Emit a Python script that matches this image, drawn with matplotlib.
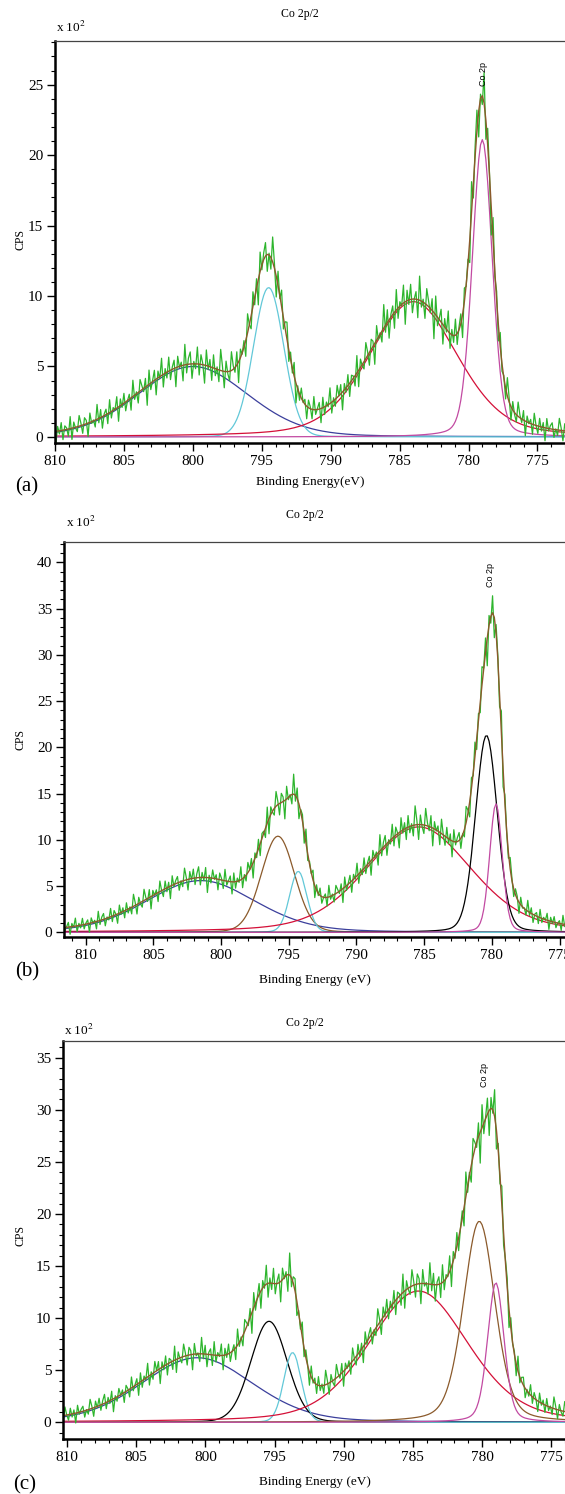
import numpy as np
import matplotlib
matplotlib.use('Agg')
import matplotlib.pyplot as plt
from matplotlib.ticker import MultipleLocator

plt.rcParams['font.family'] = ['Liberation Serif', 'DejaVu Serif']
plt.rcParams['mathtext.fontset'] = 'stix'

# ---- fitted components (x 10^2 CPS) ----
# panel (a)
a_centers = [800.0, 794.5, 784.0, 779.0]
a_heights = [5.0, 10.6, 9.6, 21.1]
a_fwhm = [9.4, 2.6, 7.6, 1.7]
a_eta = [0.15, 0.05, 0.3, 0.2]
a_names = ['blue', 'cyan', 'red', 'magenta']

# panel (b)
b_centers = [801.5, 795.8, 794.3, 785.4, 780.4, 779.7]
b_heights = [5.6, 10.4, 6.6, 11.4, 21.3, 13.9]
b_fwhm = [9.5, 2.9, 1.5, 9.2, 1.9, 1.1]
b_eta = [0.2, 0.1, 0.1, 0.3, 0.15, 0.2]
b_names = ['blue', 'brown', 'cyan', 'red', 'black', 'magenta']

# panel (c)
c_centers = [800.6, 795.4, 793.7, 784.6, 780.2, 779.0]
c_heights = [6.2, 9.7, 6.7, 12.6, 19.3, 13.4]
c_fwhm = [9.5, 3.1, 1.5, 8.5, 2.7, 1.4]
c_eta = [0.2, 0.1, 0.1, 0.3, 0.3, 0.3]
c_names = ['blue', 'black', 'cyan', 'red', 'brown', 'magenta']

# hand-read jitter of the raw counts (in units of local noise)
jitter = [
    0.5, -0.8, 1.1, -0.2, 0.9, -1.3, 0.3, 1.5, -0.7, 0.1,
    -1.0, 0.8, 0.4, -0.3, 1.2, -1.6, 0.6, -0.5, 1.0, -0.9,
    0.0, 1.4, -1.2, 0.5, -0.1, 0.7, -1.7, 1.1, -0.4, 0.3,
    1.6, -0.8, -0.2, 0.9, -1.4, 0.4, 1.8, -1.0, 0.2, -0.6,
    1.1, -1.1, 0.6, -0.3, 1.3, -1.5, 0.1, 0.8, -0.9, 1.4,
    -0.4, 0.2, -1.2, 1.0, 0.5, -0.7, 1.7, -1.3, 0.3, -0.1,
    0.9, -1.6, 0.7, 0.2, -0.8, 1.2, -0.5, 0.4, -1.1, 1.5,
    -0.2, 0.6, -1.4, 0.9, 0.1, -0.6, 1.3, -1.8, 0.8, -0.3,
    0.4, 1.1, -1.0, 0.2, -0.4, 1.6, -1.2, 0.5, 0.0, -0.9,
    1.0, -0.3, 0.7, -1.5, 1.2, -0.1, 0.3, -0.7, 1.4, -1.1,
    0.6, 0.2, -1.3, 0.9, -0.5, 1.7, -0.8, 0.1, -0.2, 1.1,
    -1.6, 0.4, 0.8, -1.0, 0.3, 1.3, -0.6, -0.1, 0.7, -1.4,
    1.5, -0.9, 0.2, 0.5, -1.2, 1.0, -0.4, 0.6, -1.7, 0.9,
    0.0, 1.2, -0.7, 0.3, -1.1, 1.6, -0.2, 0.4, -0.8, 1.1,
    -1.5, 0.7, 0.1, -0.5, 1.4, -1.0, 0.2, 0.8, -1.3, 0.5,
    -0.1, 1.0, -0.6, 0.3, -1.8, 1.2, -0.4, 0.6, -0.9, 1.3]

colors = {'green': '#2db52d', 'brown': '#8b5a2b', 'red': '#d41038',
          'blue': '#3b3f9c', 'cyan': '#62c8d8', 'magenta': '#c24aa2',
          'black': 'black'}

W, H = 565, 1494
fig = plt.figure(figsize=(W / 100, H / 100), dpi=100)


def pv(x, c, h, w, eta):
    g = np.exp(-4 * np.log(2) * ((x - c) / w) ** 2)
    l = 1 / (1 + 4 * ((x - c) / w) ** 2)
    return h * ((1 - eta) * g + eta * l)


def panel(rect, xlim, ylim, ymajor, centers, heights, fwhm, eta, names,
          noise_k, shift, peak_xy, tag, xlab, tag_xy, lab_xy, title_xy,
          exp_xy, cps_xy):
    ax = fig.add_axes(rect)
    x = np.arange(xlim[1] - 0.5, xlim[0] + 0.5, 0.13)
    env = np.zeros_like(x)
    for c, h, w, e, n in zip(centers, heights, fwhm, eta, names):
        y = pv(x, c, h, w, e)
        env += y
        ax.plot(x, y, color=colors[n], lw=0.9)
    j = np.roll(np.resize(np.array(jitter), x.size), shift)
    raw = env + noise_k * np.sqrt(env + 3) * j
    ax.plot(x, raw, color=colors['green'], lw=0.9)
    ax.plot(x, env, color=colors['brown'], lw=1.0)

    ax.set_xlim(*xlim)
    ax.set_ylim(*ylim)
    ax.xaxis.set_major_locator(MultipleLocator(5))
    ax.xaxis.set_minor_locator(MultipleLocator(1))
    ax.yaxis.set_major_locator(MultipleLocator(ymajor))
    ax.yaxis.set_minor_locator(MultipleLocator(1))
    ax.tick_params(which='major', direction='out', length=5.5, width=1,
                   labelsize=11, pad=3)
    ax.tick_params(which='minor', direction='out', length=3, width=0.8)
    ax.tick_params(top=False, right=False)
    ax.spines['right'].set_visible(False)
    ax.spines['left'].set_linewidth(1.8)
    ax.spines['bottom'].set_linewidth(1.8)
    ax.spines['top'].set_linewidth(0.9)
    ax.spines['top'].set_color('#444444')

    ax.text(peak_xy[0], peak_xy[1], 'Co 2p', rotation=90, ha='center',
            va='bottom', fontsize=6.5, family=['Liberation Sans'])

    def ft(px, py, s, **kw):
        fig.text(px / W, 1 - py / H, s, **kw)

    ft(*title_xy, 'Co 2p/2', ha='center', va='center', fontsize=8.5)
    ft(*exp_xy, r'x 10$^{2}$', ha='left', va='center', fontsize=9.5)
    ft(*cps_xy, 'CPS', ha='center', va='center', rotation=90, fontsize=8.5)
    ft(*lab_xy, xlab, ha='center', va='center', fontsize=9.5)
    ft(*tag_xy, tag, ha='center', va='center', fontsize=15)
    return ax


panel([55 / W, 1 - 443 / H, 1 - 55 / W, 402 / H], (810, 773), (-0.43, 28.1), 5,
      a_centers, a_heights, a_fwhm, a_eta, a_names, 0.3, 0, (778.9, 24.9),
      '(a)', 'Binding Energy(eV)', (27, 487), (310, 482), (300, 14),
      (56, 27), (20, 240))

panel([64 / W, 1 - 937 / H, 1 - 64 / W, 395 / H], (811.6, 774.6), (-0.5, 42.2), 5,
      b_centers, b_heights, b_fwhm, b_eta, b_names, 0.3, 53, (780.1, 37.3),
      '(b)', 'Binding Energy (eV)', (27, 972), (315, 980), (305, 515),
      (66, 522), (20, 740))

panel([63 / W, 1 - 1439 / H, 1 - 63 / W, 398 / H], (810.3, 774.0), (-1.6, 36.6), 5,
      c_centers, c_heights, c_fwhm, c_eta, c_names, 0.3, 101, (779.8, 32.2),
      '(c)', 'Binding Energy (eV)', (25, 1485), (315, 1482), (305, 1023),
      (64, 1030), (20, 1235))

fig.savefig('out.png', dpi=100)
